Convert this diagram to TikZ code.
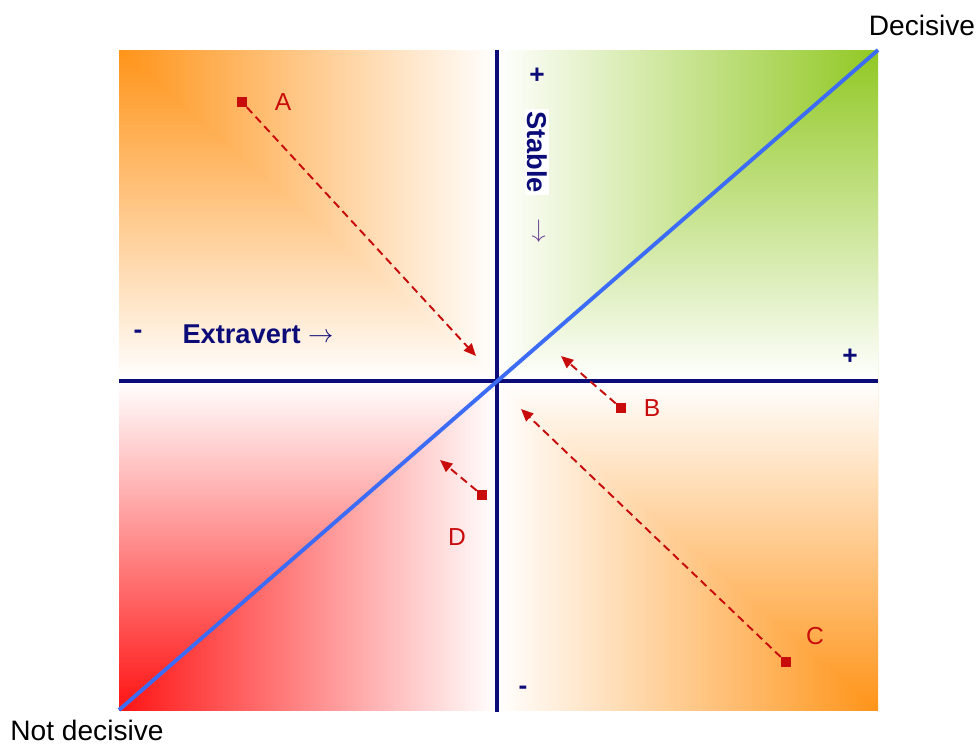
\documentclass[tikz,border=0pt]{standalone}
\usepackage{fontspec}
\setmainfont{Liberation Sans}
\usetikzlibrary{arrows.meta}
\definecolor{navy}{RGB}{12,12,120}
\definecolor{diagblue}{RGB}{60,108,245}
\definecolor{markred}{RGB}{200,12,12}
\definecolor{warmorange}{RGB}{255,148,25}
\definecolor{leafgreen}{RGB}{145,200,35}
\definecolor{hotred}{RGB}{255,20,20}
\definecolor{arrowpurple}{RGB}{110,70,150}
\begin{document}
\begin{tikzpicture}[x=0.02cm, y=-0.02cm,
  axis/.style={draw=navy, line width=2.3pt},
  diag/.style={draw=diagblue, line width=2.2pt},
  pt/.style={rectangle, fill=markred, inner sep=0pt, minimum size=5.6pt},
  move/.style={draw=markred, line width=1.1pt, dash pattern=on 4.5pt off 2.8pt,
    -{Triangle[length=7pt, width=6pt]}},
  ptlabel/.style={text=markred, font=\fontsize{14}{16}\selectfont},
  sign/.style={text=navy, font=\bfseries\fontsize{15}{17}\selectfont},
  axislabel/.style={text=navy, font=\bfseries\fontsize{15.5}{18}\selectfont},
  endlabel/.style={font=\fontsize{16}{19}\selectfont, inner sep=0pt}]
  \useasboundingbox (0,0) rectangle (980,745);

  % Quadrant backgrounds: top left, orange
  \shade[left color=warmorange, right color=white] (119,50) rectangle (497,381);
  \begin{scope}
    \clip (119,50) -- (119,381) -- (497,381) -- cycle;
    \shade[top color=warmorange, bottom color=white] (119,50) rectangle (497,381);
  \end{scope}
  % top right, green
  \shade[left color=white, right color=leafgreen] (497,50) rectangle (878,381);
  \begin{scope}
    \clip (878,50) -- (878,381) -- (497,381) -- cycle;
    \shade[top color=leafgreen, bottom color=white] (497,50) rectangle (878,381);
  \end{scope}
  % bottom left, red
  \shade[left color=hotred, right color=white] (119,381) rectangle (497,710);
  \begin{scope}
    \clip (119,381) -- (497,381) -- (119,710) -- cycle;
    \shade[top color=white, bottom color=hotred] (119,381) rectangle (497,710);
  \end{scope}
  % bottom right, orange
  \shade[left color=white, right color=warmorange] (497,381) rectangle (878,710);
  \begin{scope}
    \clip (878,381) -- (878,710) -- (497,381) -- cycle;
    \shade[top color=white, bottom color=warmorange] (497,381) rectangle (878,710);
  \end{scope}

  % Axes
  \coordinate (x-left) at (119,381);
  \coordinate (x-right) at (878,381);
  \coordinate (y-top) at (497,50);
  \coordinate (y-bottom) at (497,712);
  \draw[axis] (x-left) -- (x-right);
  \draw[axis] (y-top) -- (y-bottom);

  % Diagonal
  \coordinate (diag-low) at (119,710);
  \coordinate (diag-high) at (878,50);
  \draw[diag] (diag-low) -- (diag-high);

  % Axis labels
  \node[sign] (x-minus) at (138,334) {-};
  \node[axislabel] (extravert) at (258,334) {Extravert \raisebox{0.5pt}{$\rightarrow$}};
  \node[sign] (x-plus) at (850,357) {+};
  \node[sign] (y-plus) at (537,76) {+};
  \node[axislabel, rotate=-90, fill=white, inner sep=1pt] (stable) at (537,152) {Stable};
  \node[text=arrowpurple, rotate=-90, font=\fontsize{15}{17}\selectfont] (stable-arrow) at (537,231) {$\rightarrow$};
  \node[sign] (y-minus) at (523,690) {-};

  % Ends of the diagonal
  \node[endlabel] (decisive) at (922,25) {Decisive};
  \node[endlabel, anchor=base] (notdecisive) at (87,740) {Not decisive};

  % Positions and moves
  \node[pt] (A) at (242,102) {};
  \node[pt] (B) at (621,408) {};
  \node[pt] (C) at (786,662) {};
  \node[pt] (D) at (482,495) {};
  \node[ptlabel] (A-lbl) at (283,102) {A};
  \node[ptlabel] (B-lbl) at (652,408) {B};
  \node[ptlabel] (C-lbl) at (815,636) {C};
  \node[ptlabel] (D-lbl) at (457,537) {D};
  \coordinate (A-end) at (476,356);
  \coordinate (B-end) at (561,356);
  \coordinate (C-end) at (521,409);
  \coordinate (D-end) at (440,460);
  \draw[move] (A) -- (A-end);
  \draw[move] (B) -- (B-end);
  \draw[move] (C) -- (C-end);
  \draw[move] (D) -- (D-end);
\end{tikzpicture}
\end{document}
